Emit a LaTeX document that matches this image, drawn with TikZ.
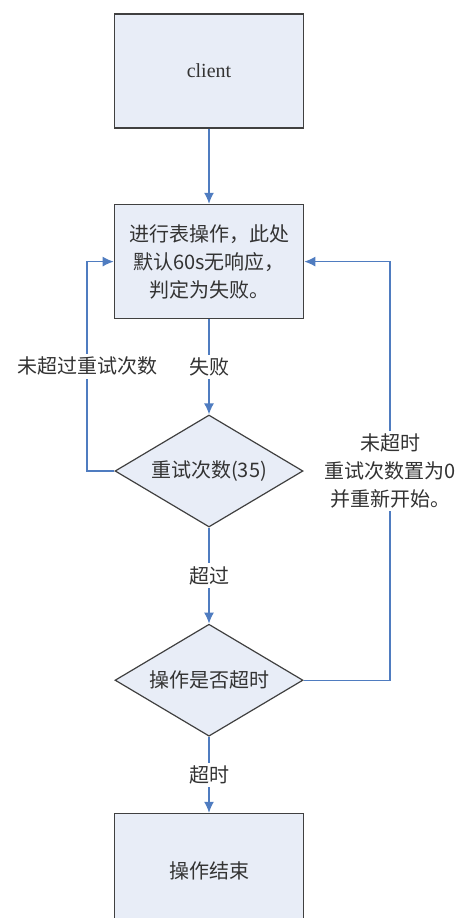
\documentclass[tikz,border=0pt]{standalone}
\usepackage{fontspec}
\setmainfont{Liberation Serif}
\newfontfamily\cjk{Noto Sans CJK SC}
\usetikzlibrary{positioning,shapes.geometric,arrows.meta}

\definecolor{boxfill}{HTML}{E8EDF7}
\definecolor{boxline}{HTML}{404040}
\definecolor{flowblue}{HTML}{4F7CC0}
\definecolor{txtgray}{HTML}{333333}

\tikzset{
  procbox/.style={rectangle,draw=boxline,fill=boxfill,line width=1.6pt,minimum width=189pt,minimum height=114pt,text=txtgray,font=\fontsize{20}{28}\selectfont},
  decide/.style={diamond,aspect=1.7,draw=boxline,fill=boxfill,line width=1.2pt,minimum width=188pt,minimum height=112pt,inner sep=0pt,text=txtgray,font=\cjk\fontsize{20}{28}\selectfont},
  flow/.style={draw=flowblue,line width=1.4pt,-{Latex[length=11pt,width=10pt]}},
  lbl/.style={fill=white,text=txtgray,inner sep=3pt,font=\cjk\fontsize{20}{28}\selectfont}
}

\begin{document}
\begin{tikzpicture}[x=1pt,y=-1pt]
  \useasboundingbox (0,0) rectangle (460,918);
  \node[procbox] (client) at (209,71) {client};
  \node[procbox,align=center,below=75pt of client] (op) {\cjk 进行表操作，此处\\\cjk 默认60s无响应，\\\cjk 判定为失败。};
  \node[decide,below=95pt of op] (retry) {重试次数(35)};
  \node[decide,below=96pt of retry] (timeout) {操作是否超时};
  \node[procbox,below=76pt of timeout] (finish) {\cjk 操作结束};
  \coordinate (lx) at (87,0);
  \coordinate (rx) at (390,0);

  \draw[flow] (client) -- (op);
  \draw[flow] (op) -- node[lbl] {失败} (retry);
  \draw[flow] (retry) -- node[lbl] {超过} (timeout);
  \draw[flow] (timeout) -- node[lbl] {超时} (finish);
  \draw[flow] (retry.west) -- (retry.west -| lx) -- node[lbl] {未超过重试次数} (op.west -| lx) -- (op.west);
  \draw[flow] (timeout.east) -- (timeout.east -| rx) -- node[lbl,align=center,pos=0.5] {未超时\\重试次数置为0\\并重新开始。} (op.east -| rx) -- (op.east);
\end{tikzpicture}
\end{document}
